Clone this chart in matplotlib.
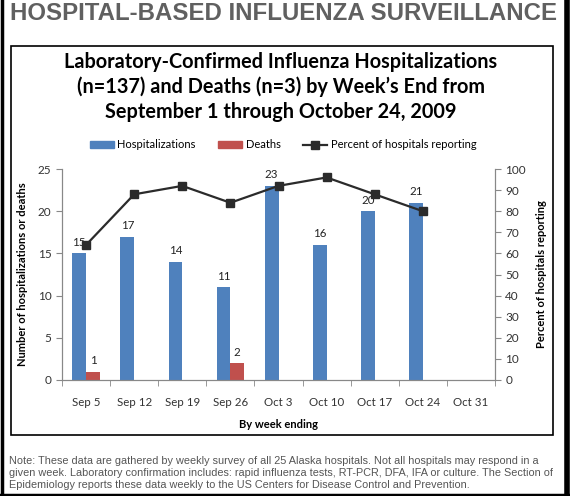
import matplotlib.pyplot as plt
from matplotlib.patches import Rectangle
from matplotlib.lines import Line2D
import numpy as np

# Data
weeks = ['Sep 5', 'Sep 12', 'Sep 19', 'Sep 26', 'Oct 3', 'Oct 10', 'Oct 17', 'Oct 24', 'Oct 31']
hospitalizations = [15, 17, 14, 11, 23, 16, 20, 21]
deaths = [1, 0, 0, 2, 0, 0, 0, 0]
pct_reporting = [64, 88, 92, 84, 92, 96, 88, 80]

blue = '#4F81BD'
red = '#C0504D'
font = 'Lato'

W, H = 570, 496
fig = plt.figure(figsize=(W / 100, H / 100), dpi=100)

# plot area in pixels: x 62..495, y 169..380
ax = fig.add_axes([62 / W, 1 - 380 / H, (495 - 62) / W, (380 - 169) / H])
ax2 = ax.twinx()

x = np.arange(len(weeks))
nb = len(hospitalizations)
w = 0.285
ax.bar(x[:nb] - w / 2, hospitalizations, w, color=blue, zorder=2)
ax.bar(x[:nb] + w / 2, deaths, w, color=red, zorder=2)

for i, v in enumerate(hospitalizations):
    ax.annotate(str(v), (x[i] - w / 2, v), xytext=(0, 4), textcoords='offset points',
                ha='center', va='bottom', fontsize=8.3, family=font, color='#222222')
for i, v in enumerate(deaths):
    if v > 0:
        ax.annotate(str(v), (x[i] + w / 2, v), xytext=(0, 4), textcoords='offset points',
                    ha='center', va='bottom', fontsize=8.3, family=font, color='#222222')

ax2.plot(x[:len(pct_reporting)], pct_reporting, color='#2b2b2b', lw=1.6,
         marker='s', markersize=6, zorder=3)

ax.set_xlim(-0.5, len(weeks) - 0.5)
ax.set_ylim(0, 25)
ax2.set_ylim(0, 100)
ax.set_yticks(range(0, 26, 5))
ax2.set_yticks(range(0, 101, 10))

ax.set_xticks(x)
ax.set_xticklabels(weeks)
ax.set_xticks(np.arange(-0.5, len(weeks), 1), minor=True)
ax.tick_params(axis='x', which='major', length=0, pad=12)
ax.tick_params(axis='x', which='minor', length=4, direction='out', color='#888888')

for a in (ax, ax2):
    for s in a.spines.values():
        s.set_color('#888888')
        s.set_linewidth(0.8)
    a.spines['top'].set_visible(False)
    a.tick_params(axis='y', length=4, direction='out', color='#888888',
                  labelsize=8.5, labelcolor='#333333')
    for lab in a.get_yticklabels():
        lab.set_family(font)
ax.tick_params(axis='x', labelsize=8.3, labelcolor='#333333')
for lab in ax.get_xticklabels():
    lab.set_family(font)

ax.set_ylabel('Number of hospitalizations or deaths', fontsize=8, family=font,
              fontweight='bold', labelpad=7)
ax2.set_ylabel('Percent of hospitals reporting', fontsize=8, family=font,
               fontweight='bold', labelpad=7)
ax.set_xlabel('By week ending', fontsize=8, family=font, fontweight='bold', labelpad=8)

# Titles
fig.text(284 / W, 1 - 13 / H, 'HOSPITAL-BASED INFLUENZA SURVEILLANCE', ha='center', va='center',
         fontsize=17.3, fontweight='bold', family='Liberation Sans', color='#606060')
fig.text(281 / W, 1 - 87 / H,
         'Laboratory-Confirmed Influenza Hospitalizations\n'
         '(n=137) and Deaths (n=3) by Week\u2019s End from\n'
         'September 1 through October 24, 2009',
         ha='center', va='center', fontsize=14.3, fontweight='bold', family=font,
         linespacing=1.3, color='black')

# Legend
handles = [Rectangle((0, 0), 1, 1, color=blue), Rectangle((0, 0), 1, 1, color=red),
           Line2D([], [], color='#2b2b2b', lw=1.6, marker='s', markersize=6)]
fig.legend(handles, ['Hospitalizations', 'Deaths', 'Percent of hospitals reporting'],
           loc='center', bbox_to_anchor=(283 / W, 1 - 145 / H), ncol=3, frameon=False,
           prop={'family': font, 'size': 8}, handlelength=2.2, handletextpad=0.3,
           columnspacing=2.0, handleheight=0.6)

# Note
fig.text(9 / W, 1 - 456 / H,
         'Note: These data are gathered by weekly survey of all 25 Alaska hospitals. Not all hospitals may respond in a\n'
         'given week. Laboratory confirmation includes: rapid influenza tests, RT-PCR, DFA, IFA or culture. The Section of\n'
         'Epidemiology reports these data weekly to the US Centers for Disease Control and Prevention.',
         ha='left', va='top', fontsize=7.85, family='Liberation Sans', color='#555555',
         linespacing=1.25)

# Chart box and outer frame
fig.add_artist(Rectangle((11 / W, 1 - 435 / H), (553 - 11) / W, (435 - 46) / H,
                         transform=fig.transFigure, fill=False, ec='black', lw=1.2))
fig.add_artist(Line2D([1.5 / W, 1.5 / W], [0, 1], transform=fig.transFigure, color='black', lw=2.5))
fig.add_artist(Line2D([1 - 3 / W, 1 - 3 / W], [0, 1], transform=fig.transFigure, color='black', lw=4))
fig.add_artist(Line2D([0, 1], [1.5 / H, 1.5 / H], transform=fig.transFigure, color='black', lw=2.5))

fig.savefig('out.png', dpi=100)
